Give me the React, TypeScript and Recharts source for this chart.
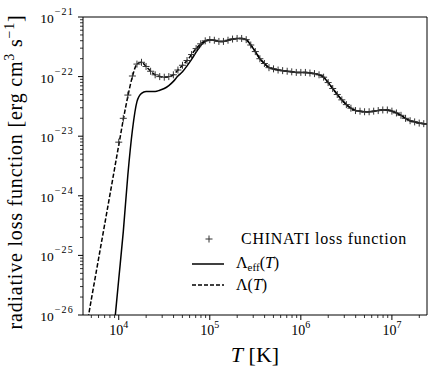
import React from 'react';
import { ComposedChart, Line, XAxis, YAxis, ReferenceLine, Legend } from 'recharts';

// temperatures (log10 T) the curves were read at
const LOG_T = [
  3.6, 3.65, 3.7, 3.75, 3.8, 3.85, 3.9, 3.95, 4.0, 4.05, 4.1, 4.15, 4.2, 4.25, 4.3, 4.35, 4.4, 4.45, 4.5,
  4.55, 4.6, 4.65, 4.7, 4.75, 4.8, 4.85, 4.9, 4.95, 5.0, 5.05, 5.1, 5.15, 5.2, 5.25, 5.3, 5.35, 5.4, 5.45,
  5.5, 5.55, 5.6, 5.65, 5.7, 5.75, 5.8, 5.85, 5.9, 5.95, 6.0, 6.05, 6.1, 6.15, 6.2, 6.25, 6.3, 6.35, 6.4,
  6.45, 6.5, 6.55, 6.6, 6.65, 6.7, 6.75, 6.8, 6.85, 6.9, 6.95, 7.0, 7.05, 7.1, 7.15, 7.2, 7.25, 7.3, 7.35, 7.4,
];

// log10 of Lambda(T), dashed
const LAMBDA_LOG = [
  -26.6, -26.17, -25.73, -25.3, -24.87, -24.44, -24.01, -23.58, -23.15, -22.72, -22.33, -22.0, -21.79, -21.76,
  -21.83, -21.91, -21.97, -22.0, -22.01, -22.0, -21.97, -21.89, -21.81, -21.73, -21.63, -21.53, -21.45, -21.4,
  -21.38, -21.39, -21.41, -21.41, -21.39, -21.37, -21.36, -21.36, -21.38, -21.47, -21.58, -21.7, -21.78,
  -21.85, -21.87, -21.89, -21.9, -21.91, -21.92, -21.93, -21.93, -21.93, -21.94, -21.95, -21.97, -22.01,
  -22.1, -22.2, -22.3, -22.39, -22.47, -22.53, -22.57, -22.58, -22.59, -22.59, -22.58, -22.57, -22.56,
  -22.56, -22.58, -22.61, -22.65, -22.7, -22.74, -22.76, -22.78, -22.79, -22.8,
];

// log10 of Lambda_eff(T), solid
const LAMBDA_EFF_LOG = [
  null, null, null, null, null, -27.8, -27.0, -26.2, -25.4, -24.6, -23.65, -22.9, -22.42, -22.28,
  -22.25, -22.25, -22.25, -22.23, -22.2, -22.15, -22.08, -21.99, -21.92, -21.82, -21.71, -21.59, -21.48, -21.41,
  -21.38, -21.39, -21.41, -21.41, -21.39, -21.37, -21.36, -21.36, -21.38, -21.47, -21.58, -21.7, -21.78,
  -21.85, -21.87, -21.89, -21.9, -21.91, -21.92, -21.93, -21.93, -21.93, -21.94, -21.95, -21.97, -22.01,
  -22.1, -22.2, -22.3, -22.39, -22.47, -22.53, -22.57, -22.58, -22.59, -22.59, -22.58, -22.57, -22.56,
  -22.56, -22.58, -22.61, -22.65, -22.7, -22.74, -22.76, -22.78, -22.79, -22.8,
];

// log10 of the CHINATI table, plus markers
const CHINATI_LOG = [
  null, null, null, null, null, null, null, null, -23.1, -22.7, -22.31, -21.99, -21.79, -21.76,
  -21.83, -21.91, -21.97, -22.0, -22.01, -22.0, -21.97, -21.89, -21.81, -21.73, -21.63, -21.53, -21.45, -21.4,
  -21.38, -21.39, -21.41, -21.41, -21.39, -21.37, -21.36, -21.36, -21.38, -21.47, -21.58, -21.7, -21.78,
  -21.85, -21.87, -21.89, -21.9, -21.91, -21.92, -21.93, -21.93, -21.93, -21.94, -21.95, -21.97, -22.01,
  -22.1, -22.2, -22.3, -22.39, -22.47, -22.53, -22.57, -22.58, -22.59, -22.59, -22.58, -22.57, -22.56,
  -22.56, -22.58, -22.61, -22.65, -22.7, -22.74, -22.76, -22.78, -22.79, -22.8,
];

const X_MAJOR = [1e4, 1e5, 1e6, 1e7];
const Y_MAJOR = [1e-26, 1e-25, 1e-24, 1e-23, 1e-22, 1e-21];
const MINOR_STEPS = [2, 3, 4, 5, 6, 7, 8, 9];

const X_DOMAIN = [4050, 2.43e7];
const Y_DOMAIN = [1e-26, 1e-21];

const FONT = "Liberation Serif, DejaVu Serif, serif";

const lin = (v: number | null) => (v === null ? null : Math.pow(10, v));

const data = LOG_T.map((lt, i) => ({
  T: Math.pow(10, lt),
  lam: lin(LAMBDA_LOG[i]),
  eff: lin(LAMBDA_EFF_LOG[i]),
  chin: lin(CHINATI_LOG[i]),
}));

const minorTicks = (majors: number[], lo: number, hi: number) => {
  const out: number[] = [];
  majors.concat([majors[0] / 10]).forEach((m) => {
    MINOR_STEPS.forEach((s) => {
      const v = m * s;
      if (v > lo && v < hi) out.push(v);
    });
  });
  return out;
};

const xTicks = [...X_MAJOR, ...minorTicks(X_MAJOR, X_DOMAIN[0], X_DOMAIN[1])].sort((a, b) => a - b);
const yTicks = [...Y_MAJOR, ...minorTicks(Y_MAJOR, Y_DOMAIN[0], Y_DOMAIN[1])].sort((a, b) => a - b);

const isMajor = (v: number, majors: number[]) => majors.some((m) => Math.abs(v / m - 1) < 1e-6);
const expOf = (v: number) => Math.round(Math.log10(v)).toString().replace('-', '\u2212');

const XTick = (props: any) => {
  const { x, y, payload } = props;
  const major = isMajor(payload.value, X_MAJOR);
  return (
    <g>
      <line x1={x} x2={x} y1={y} y2={y + (major ? 5 : 3)} stroke="#000" strokeWidth={major ? 1 : 0.8} />
      {major && (
        <text x={x} y={y + 20} textAnchor="middle" fontSize={14} fontFamily={FONT} fill="#000">
          10<tspan dy={-7} fontSize={10}>{expOf(payload.value)}</tspan>
        </text>
      )}
    </g>
  );
};

const YTick = (props: any) => {
  const { x, y, payload } = props;
  const major = isMajor(payload.value, Y_MAJOR);
  return (
    <g>
      <line x1={x} x2={x - (major ? 5 : 3)} y1={y} y2={y} stroke="#000" strokeWidth={major ? 1 : 0.8} />
      {major && (
        <text x={x - 9} y={y + 6} textAnchor="end" fontSize={13.5} fontFamily={FONT} fill="#000">
          10<tspan dx={1} dy={-8} fontSize={10} letterSpacing={1.2}>{expOf(payload.value)}</tspan>
        </text>
      )}
    </g>
  );
};

const PlusDot = (props: any) => {
  const { cx, cy, value } = props;
  if (value === null || value === undefined || cx == null || cy == null) return null;
  return (
    <g>
      <line x1={cx - 3.5} x2={cx + 3.5} y1={cy} y2={cy} stroke="#333" strokeWidth={1} />
      <line x1={cx} x2={cx} y1={cy - 3.5} y2={cy + 3.5} stroke="#333" strokeWidth={1} />
    </g>
  );
};

const renderLegend = () => (
  <svg width={240} height={75} style={{ display: 'block' }}>
    <line x1={25.5} x2={32.5} y1={14} y2={14} stroke="#333" strokeWidth={1} />
    <line x1={29} x2={29} y1={10.5} y2={17.5} stroke="#333" strokeWidth={1} />
    <text x={61} y={19} fontSize={16} letterSpacing={0.75} fontFamily={FONT} fill="#000">
      CHINATI loss function
    </text>
    <line x1={12} x2={44} y1={39} y2={39} stroke="#000" strokeWidth={1.5} />
    <text x={56} y={42.5} fontSize={16} fontFamily={FONT} fill="#000">
      Λ<tspan fontSize={11} dy={3}>eff</tspan>
      <tspan dy={-3}>(</tspan>
      <tspan fontStyle="italic">T</tspan>)
    </text>
    <line x1={12} x2={44} y1={60} y2={60} stroke="#000" strokeWidth={1.5} strokeDasharray="4 2" />
    <text x={56} y={65} fontSize={16} fontFamily={FONT} fill="#000">
      Λ(<tspan fontStyle="italic">T</tspan>)
    </text>
  </svg>
);

const App: React.FC = () => {
  return (
    <div style={{ position: 'absolute', left: 0, top: 0, background: '#fff' }}>
      <ComposedChart width={436} height={374} data={data} margin={{ top: 17, right: 9, bottom: 0, left: 0 }}>
        <XAxis
          dataKey="T"
          type="number"
          scale="log"
          domain={X_DOMAIN}
          allowDataOverflow
          ticks={xTicks}
          interval={0}
          tick={<XTick />}
          tickLine={false}
          tickSize={0}
          tickMargin={0}
          height={59}
          axisLine={{ stroke: '#000', strokeWidth: 1 }}
          label={{
            content: () => (
              <text x={255} y={362} textAnchor="middle" fontSize={22} fontFamily={FONT} fill="#000">
                <tspan fontStyle="italic">T</tspan> [K]
              </text>
            ),
          }}
        />
        <YAxis
          type="number"
          scale="log"
          domain={Y_DOMAIN}
          allowDataOverflow
          ticks={yTicks}
          interval={0}
          tick={<YTick />}
          tickLine={false}
          tickSize={0}
          tickMargin={0}
          width={83}
          axisLine={{ stroke: '#000', strokeWidth: 1 }}
          label={{
            content: () => (
              <text
                x={22}
                y={172}
                transform="rotate(-90 22 172)"
                textAnchor="middle"
                fontSize={20}
                letterSpacing={0.8}
                fontFamily={FONT}
                fill="#000"
              >
                radiative loss function [erg cm<tspan dy={-8} fontSize={14}>3</tspan>
                <tspan dy={8}> s</tspan>
                <tspan dy={-8} fontSize={14}>{'\u22121'}</tspan>
                <tspan dy={8}>]</tspan>
              </text>
            ),
          }}
        />
        <ReferenceLine y={1e-21} stroke="#000" strokeWidth={1} />
        <ReferenceLine x={X_DOMAIN[1]} stroke="#000" strokeWidth={1} />
        <Line
          dataKey="lam"
          type="monotone"
          stroke="#000"
          strokeWidth={1.5}
          strokeDasharray="4.5 2"
          dot={false}
          isAnimationActive={false}
        />
        <Line dataKey="eff" type="monotone" stroke="#000" strokeWidth={1.5} dot={false} isAnimationActive={false} />
        <Line dataKey="chin" stroke="none" dot={<PlusDot />} activeDot={false} isAnimationActive={false} />
        <Legend
          content={renderLegend}
          layout="horizontal"
          verticalAlign="middle"
          align="center"
          wrapperStyle={{ position: 'absolute', left: 180, top: 225, width: 240, height: 75 }}
        />
      </ComposedChart>
    </div>
  );
};

export default App;
